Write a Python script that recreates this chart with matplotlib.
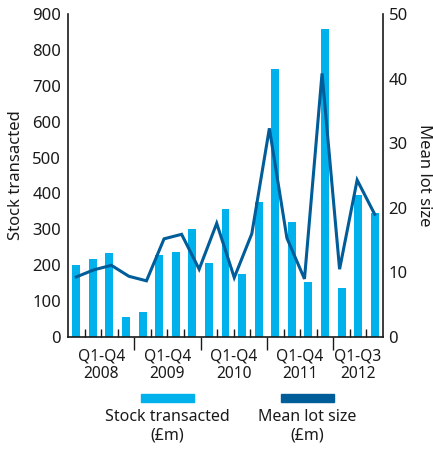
import numpy as np
import matplotlib
matplotlib.use('Agg')
import matplotlib.pyplot as plt
from matplotlib.patches import Rectangle

plt.rcParams['font.family'] = ['Noto Sans', 'DejaVu Sans']

LIGHT = '#00b1eb'
DARK = '#005d99'
INK = '#1a1a1a'

# quarterly stock transacted (£m), Q1 2008 .. Q3 2012
stock = [201, 218, 235, 55, 69, 229, 237, 302, 207, 358,
         175, 376, 746, 320, 152, 858, 136, 395, 345]
# mean lot size (£m)
mean_lot = [9.3, 10.4, 11.1, 9.4, 8.7, 15.2, 15.9, 10.5, 17.6,
            9.2, 16.0, 32.3, 15.3, 9.0, 40.8, 10.5, 24.3, 19.0]
years = ['2008', '2009', '2010', '2011', '2012']
spans = ['Q1-Q4', 'Q1-Q4', 'Q1-Q4', 'Q1-Q4', 'Q1-Q3']
group_sizes = [4, 4, 4, 4, 3]

fig = plt.figure(figsize=(4.33, 4.5), dpi=100)
ax = fig.add_axes([0.157, 0.251, 0.7275, 0.718])
ax2 = ax.twinx()

x = np.arange(len(stock))
ax.bar(x, stock, width=0.48, color=LIGHT, zorder=2)
x_line = np.linspace(0, len(stock) - 1, len(mean_lot))
ax2.plot(x_line, mean_lot, color=DARK, lw=2.2, solid_joinstyle='miter', zorder=3)

ax.set_xlim(-0.5, len(stock) - 0.5)
ax.set_ylim(0, 900)
ax2.set_ylim(0, 50)
ax.set_yticks(range(0, 901, 100))
ax2.set_yticks(range(0, 51, 10))

for a in (ax, ax2):
    a.spines['top'].set_visible(False)
for s in ('left', 'bottom'):
    ax2.spines[s].set_visible(False)
ax.spines['right'].set_visible(False)
for s in ('left', 'bottom'):
    ax.spines[s].set_linewidth(1.2)
    ax.spines[s].set_color(INK)
ax2.spines['right'].set_linewidth(1.2)
ax2.spines['right'].set_color(INK)

ax.tick_params(axis='y', length=0, pad=5, labelsize=12, labelcolor=INK)
ax2.tick_params(axis='y', length=0, pad=4, labelsize=12, labelcolor=INK)

# quarter separators inside, year separators reaching below
bounds = np.cumsum(group_sizes)[:-1] - 0.5
ax.set_xticks(bounds)
ax.set_xticklabels([])
ax.set_xticks(np.arange(len(stock) - 1) + 0.5, minor=True)
ax.tick_params(axis='x', which='major', direction='out', length=9.5, width=1, color=INK)
ax.tick_params(axis='x', which='minor', direction='in', length=5.5, width=1, color=INK)

start = 0
for yr, sp, n in zip(years, spans, group_sizes):
    cx = start + (n - 1) / 2
    ax.text(cx, -0.035, sp + '\n' + yr, transform=ax.get_xaxis_transform(),
            ha='center', va='top', fontsize=11.2, color=INK, linespacing=1.1)
    start += n

ax.set_ylabel('Stock transacted', fontsize=12, color=INK, labelpad=6)
ax2.set_ylabel('Mean lot size', fontsize=12, color=INK, rotation=-90,
               va='bottom', labelpad=6)

# legend
W, H = 433, 450
for cx, col, label in [(167, LIGHT, 'Stock transacted\n(£m)'),
                       (307, DARK, 'Mean lot size\n(£m)')]:
    fig.add_artist(Rectangle(((cx - 26.5) / W, 1 - 402 / H), 53 / W, 8 / H,
                             transform=fig.transFigure, color=col))
    fig.text(cx / W, 1 - 409 / H, label, ha='center', va='top',
             fontsize=11.5, color=INK, linespacing=1.2)

fig.savefig('out.png', dpi=100)
